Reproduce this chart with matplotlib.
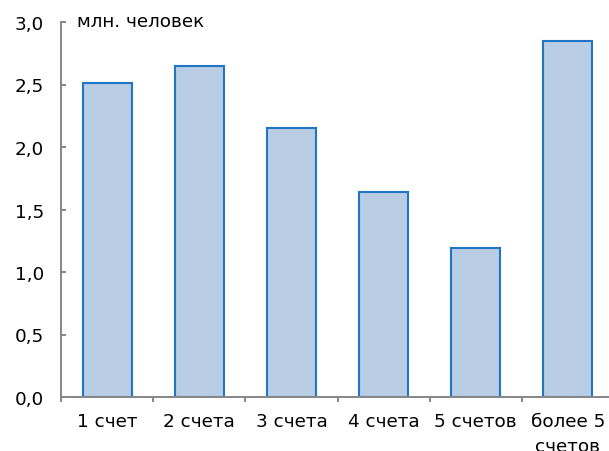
import matplotlib
matplotlib.use("Agg")
import matplotlib.pyplot as plt
import matplotlib.transforms as mtransforms

categories = ["1 счет", "2 счета", "3 счета", "4 счета", "5 счетов", "более 5\nсчетов"]
values = [2.51, 2.65, 2.15, 1.64, 1.19, 2.85]
yticks = [0.0, 0.5, 1.0, 1.5, 2.0, 2.5, 3.0]
ytick_labels = ["0,0", "0,5", "1,0", "1,5", "2,0", "2,5", "3,0"]
unit_label = "млн. человек"

plt.rcParams['font.family'] = ['DejaVu Sans']
FS = 13.2
PX = 0.72  # points per pixel at 100 dpi
W, H = 609, 452
fig = plt.figure(figsize=(W / 100, H / 100), dpi=100)
left, right, bottom, top = 61, 614, 54, 429
ax = fig.add_axes([left / W, bottom / H, (right - left) / W, (top - bottom) / H])

x = list(range(len(categories)))
ax.bar(x, values, width=0.53, color="#B9CDE5", edgecolor="#1F75C8", linewidth=1.5)
ax.set_xlim(-0.5, len(categories) - 0.5)
ax.set_ylim(0, 3.0)

spine_color = "#868686"
for s in ["top", "right"]:
    ax.spines[s].set_visible(False)
for s in ["left", "bottom"]:
    ax.spines[s].set_color(spine_color)
    ax.spines[s].set_linewidth(1.4)

ax.set_yticks(yticks)
ax.set_yticklabels(ytick_labels)
ax.tick_params(axis="y", direction="in", length=5 * PX, width=1.4, color=spine_color,
               labelsize=FS, pad=17 * PX)
bounds = [i - 0.5 for i in range(len(categories) + 1)]
ax.set_xticks(bounds)
ax.set_xticklabels([""] * len(bounds))
ax.set_xticks(x, minor=True)
ax.set_xticklabels(categories, minor=True, linespacing=1.5)
ax.tick_params(axis="x", which="major", direction="out", length=5 * PX, width=1.4, color=spine_color)
ax.tick_params(axis="x", which="minor", length=0, labelsize=FS, pad=15 * PX)

pix = mtransforms.Affine2D().scale(1, -1).translate(0, H)
fig.text(77, 22, unit_label, transform=pix, fontsize=FS, va="center", ha="left")

fig.savefig("out.png", dpi=100)
